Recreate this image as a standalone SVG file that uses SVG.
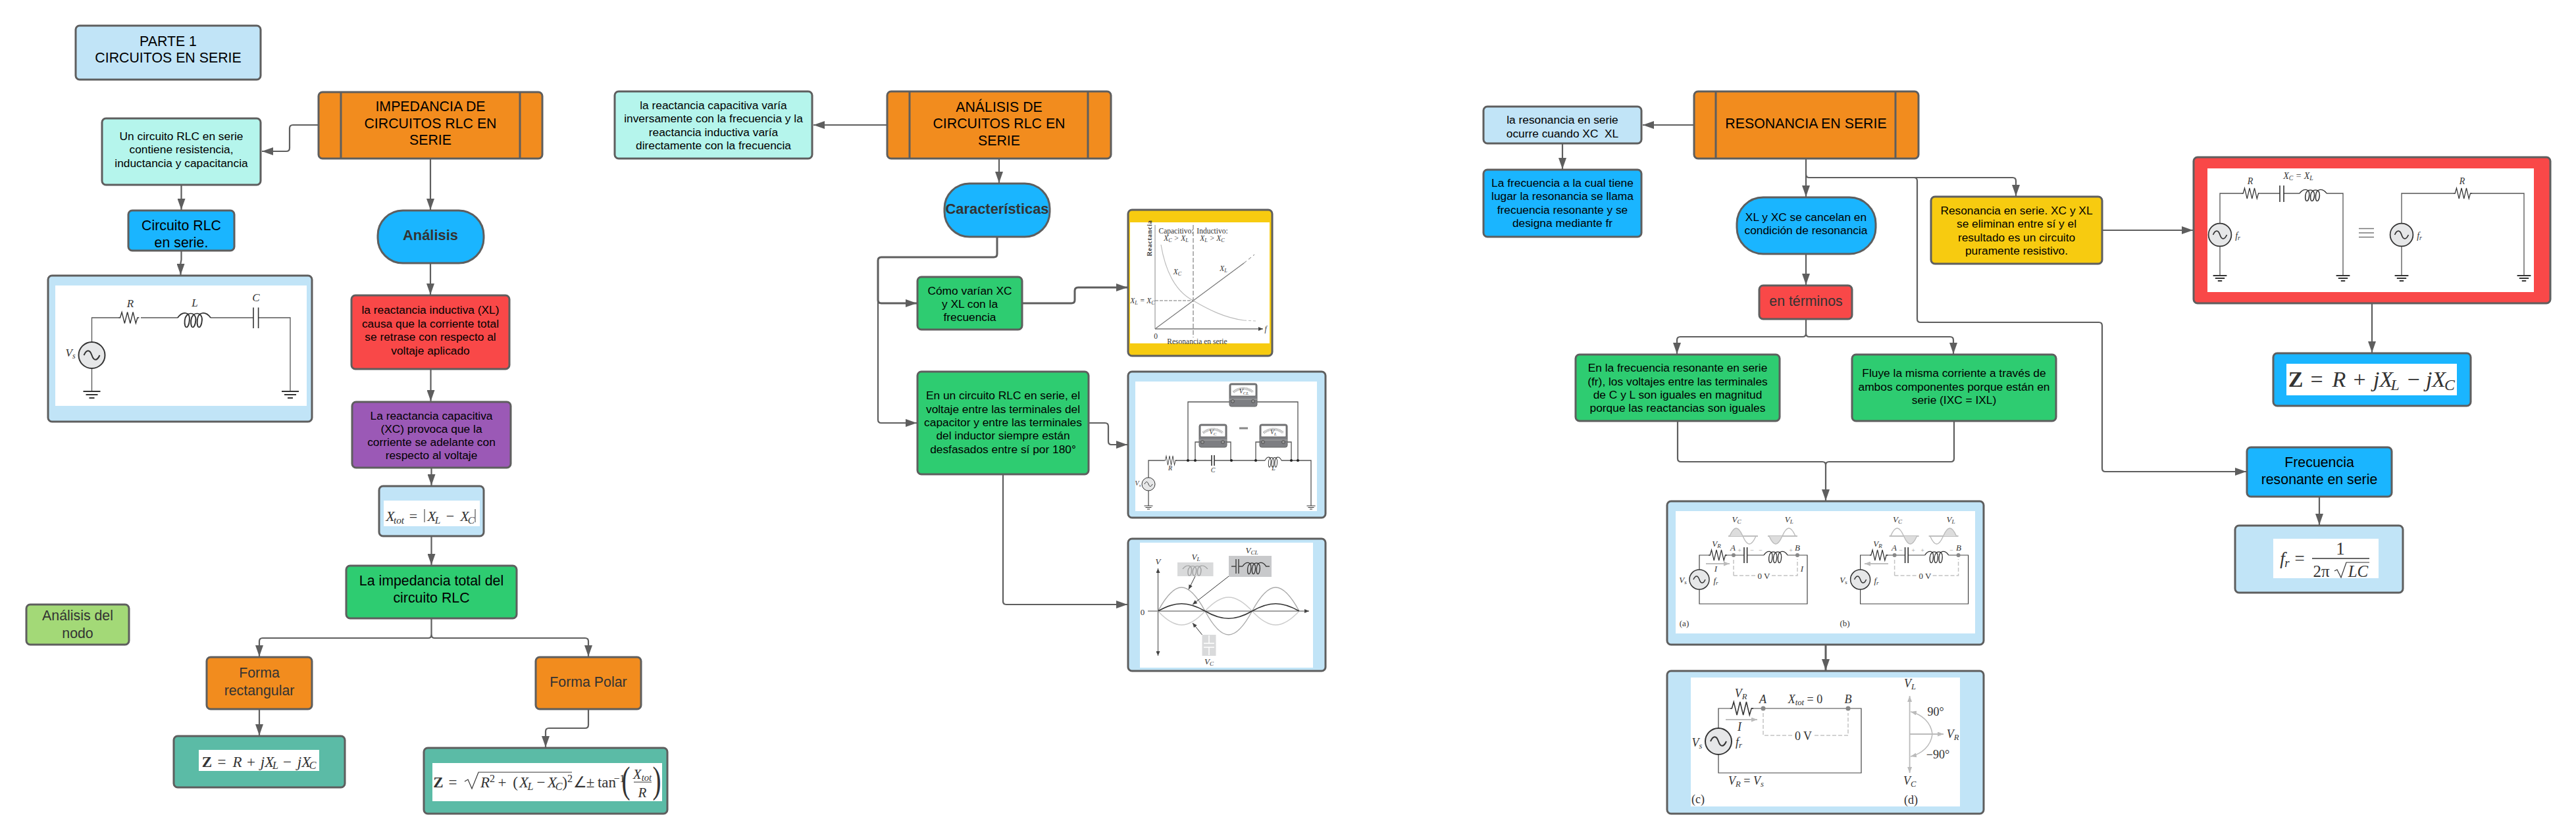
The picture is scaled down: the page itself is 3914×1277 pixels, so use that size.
<svg xmlns="http://www.w3.org/2000/svg" width="3914" height="1277" viewBox="0 0 3914 1277">
<style>
.b{stroke:#5e5e5e;stroke-width:3}
.or{fill:#f28c1e}.tl{fill:#b5f5ec}.bl{fill:#1ab5ff}.rd{fill:#f94848}.pu{fill:#9b59b6}.gr{fill:#2ecc71}.lb{fill:#c1e4f7}.lg{fill:#a3d977}.te{fill:#5bbba6}.ye{fill:#f7cb10}.wh{fill:#fff}
.t{font-family:"Liberation Sans",Arial,sans-serif;text-anchor:middle;fill:#000}
.s17{font-size:17.33px}.s22{font-size:21.33px}.d{fill:#333}.bd{font-weight:700;font-size:21.9px}
.c{fill:none;stroke:#5e5e5e;stroke-width:2.2;marker-end:url(#a)}
.c0{fill:none;stroke:#5e5e5e;stroke-width:2.2}
.w{fill:none;stroke:#555;stroke-width:1.3}
.w2{fill:none;stroke:#333;stroke-width:1.6}
.g{fill:none;stroke:#bbb;stroke-width:1.6}
.da{fill:none;stroke:#c4c4c4;stroke-width:1.5;stroke-dasharray:6 3}
.m{font-family:"Liberation Serif","Times New Roman",serif;font-style:italic;fill:#333;text-anchor:middle}
.r{font-family:"Liberation Serif","Times New Roman",serif;fill:#333;text-anchor:middle}
.sm{font-size:.7em}
.u{font-style:normal}
</style>
<defs>
<marker id="a" markerUnits="userSpaceOnUse" markerWidth="17" markerHeight="12" refX="17" refY="6" orient="auto"><path d="M0 0L17 6L0 12z" fill="#5e5e5e"/></marker>
<marker id="sa" markerUnits="userSpaceOnUse" markerWidth="7" markerHeight="6" refX="7" refY="3" orient="auto"><path d="M0 0L7 3L0 6z" fill="#444"/></marker>
<marker id="ga" markerUnits="userSpaceOnUse" markerWidth="9" markerHeight="7" refX="9" refY="3.5" orient="auto"><path d="M0 0L9 3.5L0 7z" fill="#bbb"/></marker>
<path id="res" d="M0 0h3l3-10 5 20 5-20 5 20 5-20 5 20 3-10h3" fill="none" stroke="#333" stroke-width="1.6"/>
<path id="ind" d="M0 0C6-10 16-10 15 4 14 18 8 18 9 4 10-10 24-10 23 4 22 18 16 18 17 4 18-10 32-10 31 4 30 18 24 18 25 4 26-10 36-10 42 0" fill="none" stroke="#333" stroke-width="1.6"/>
<g id="src"><circle r="20" fill="#e6e7e8" stroke="#333" stroke-width="2"/><path d="M-12 0C-8-9-3-9 0 0S8 9 12 0" fill="none" stroke="#333" stroke-width="2"/></g>
<path id="gnd" d="M-13 0H13M-9 5H9M-4 10H4" fill="none" stroke="#333" stroke-width="2.2"/>
<g id="mtr"><rect width="42" height="35" rx="3" fill="#7d7e82" stroke="#666"/><rect x="2" y="2" width="38" height="17" rx="1" fill="#fff" stroke="#555" stroke-width=".8"/><path d="M6 13Q21 2 36 13" fill="none" stroke="#999" stroke-width="4" stroke-dasharray="1 1"/><path d="M0 24H42" stroke="#aaa"/><circle cx="5" cy="27" r="2.4" fill="#999" stroke="#333" stroke-width=".7"/><circle cx="36" cy="27" r="2.4" fill="#999" stroke="#333" stroke-width=".7"/></g>
<path id="sw" d="M0 0C7-16 13-16 20 0 27 16 33 16 40 0" fill="none" stroke="#bbb" stroke-width="1.4"/>
<path id="shu" d="M0 0C7-16 13-16 20 0z" fill="#ddd"/>
<path id="shd" d="M0 0C7 16 13 16 20 0z" fill="#ddd"/>
</defs>
<rect width="3914" height="1277" fill="#fff"/>
<g id="connectors">
<path class="c" d="M484 190H445Q440 190 440 195V225Q440 230 435 230H398"/>
<path class="c" d="M275.5 281V319"/>
<path class="c" d="M275.500 381V395L274.500 400V418"/>
<path class="c" d="M654 241V319"/>
<path class="c" d="M654 400V448"/>
<path class="c" d="M654.500 561V610"/>
<path class="c" d="M655.500 711V738"/>
<path class="c" d="M655.500 815V859"/>
<path class="c" d="M655.500 940V965Q655.500 970 650.500 970H399Q394 970 394 975V998"/>
<path class="c" d="M655.500 965Q655.500 970 660.500 970H889Q894 970 894 975V998"/>
<path class="c" d="M394 1078V1118"/>
<path class="c" d="M894 1078V1102Q894 1107 889 1107H834Q829 1107 829 1112V1136"/>
<path class="c" d="M1348 190H1236"/>
<path class="c" d="M1518 241V278"/>
<path class="c" style="stroke-width:3" d="M1515 360V386Q1515 391 1510 391H1339Q1334 391 1334 396V456Q1334 461 1339 461H1393"/>
<path class="c" d="M1334 456V638Q1334 643 1339 643H1393"/>
<path class="c" style="stroke-width:3" d="M1553 461H1628Q1633 461 1633 456V442Q1633 437 1638 437H1713"/>
<path class="c" d="M1654 643H1679Q1684 643 1684 648V671Q1684 676 1689 676H1713"/>
<path class="c" d="M1524 721V914Q1524 919 1529 919H1713"/>
<path class="c" d="M2574 190H2496"/>
<path class="c" d="M2374 218V257"/>
<path class="c" d="M2744 241V299"/>
<path class="c" d="M2744 265Q2744 270 2749 270H3058Q3063 270 3063 275V298"/>
<path class="c" d="M2908 270Q2913 270 2913 275V485Q2913 490 2918 490H3189Q3194 490 3194 495V712Q3194 717 3199 717H3413"/>
<path class="c" d="M2744 386V433"/>
<path class="c" d="M2744 485V507Q2744 512 2739 512H2553Q2548 512 2548 517V538"/>
<path class="c" d="M2744 507Q2744 512 2749 512H2963Q2968 512 2968 517V538"/>
<path class="c" d="M2549 640V697Q2549 702 2554 702H2769Q2774 702 2774 707V761"/>
<path class="c0" d="M2969 640V697Q2969 702 2964 702H2779Q2774 702 2774 707"/>
<path class="c" style="stroke-width:3" d="M2774 980V1019"/>
<path class="c" d="M3194 350H3332"/>
<path class="c" d="M3604 461V536"/>
<path class="c" d="M3524 755V798"/>
</g>
<g id="n-parte"><rect class="b lb" x="115" y="39" width="281" height="82" rx="6"/><text class="t s22"><tspan x="255.500" y="70">PARTE 1</tspan><tspan x="255.500" y="95">CIRCUITOS EN SERIE</tspan></text></g>
<g id="n-impedancia"><rect class="b or" x="484" y="140" width="340" height="101" rx="6"/><path class="b" d="M518 140V241M790 140V241"/><text class="t s22"><tspan x="654" y="169">IMPEDANCIA DE</tspan><tspan x="654" y="195">CIRCUITOS RLC EN</tspan><tspan x="654" y="220">SERIE</tspan></text></g>
<g id="n-uncircuito"><rect class="b tl" x="155" y="180" width="241" height="101" rx="6"/><text class="t s17"><tspan x="275.500" y="213">Un circuito RLC en serie</tspan><tspan x="275.500" y="233">contiene resistencia,</tspan><tspan x="275.500" y="254">inductancia y capacitancia</tspan></text></g>
<g id="n-circuitorlc"><rect class="b bl" x="195" y="320" width="161" height="61" rx="6"/><text class="t s22"><tspan x="275.500" y="350">Circuito RLC</tspan><tspan x="275.500" y="376">en serie.</tspan></text></g>
<g id="n-circ1"><rect class="b lb" x="73" y="419" width="401" height="222" rx="6"/><rect class="wh" x="84" y="434" width="382" height="183"/>
<path class="w" d="M139.500 520V483H180M214 483H270M320 483H385M392.600 483H441V595M139.500 560V595"/>
<use href="#res" transform="translate(180 483) scale(.85 .85)"/><use href="#ind" transform="translate(270 483) scale(1.19 1)"/>
<path class="w2" d="M385 467.500V499M392.600 467.500V499"/>
<use href="#src" transform="translate(139.500 540)"/><use href="#gnd" transform="translate(139.500 595)"/><use href="#gnd" transform="translate(441 595)"/>
<text class="m" font-size="17"><tspan x="198" y="467">R</tspan><tspan x="296" y="466">L</tspan><tspan x="389" y="458">C</tspan></text>
<text class="m" font-size="17" x="107" y="542">V<tspan class="sm" dy="3">s</tspan></text></g>
<g id="n-analisis"><rect class="b bl" x="574" y="320" width="161" height="80" rx="38"/><text class="t d bd" x="654" y="365">Análisis</text></g>
<g id="n-inductiva"><rect class="b rd" x="534" y="449" width="240" height="112" rx="6"/><text class="t s17"><tspan x="654" y="477">la reactancia inductiva (XL)</tspan><tspan x="654" y="498">causa que la corriente total</tspan><tspan x="654" y="518">se retrase con respecto al</tspan><tspan x="654" y="539">voltaje aplicado</tspan></text></g>
<g id="n-capacitiva"><rect class="b pu" x="535" y="611" width="241" height="100" rx="6"/><text class="t s17"><tspan x="655.500" y="638">La reactancia capacitiva</tspan><tspan x="655.500" y="658">(XC) provoca que la</tspan><tspan x="655.500" y="678">corriente se adelante con</tspan><tspan x="655.500" y="698">respecto al voltaje</tspan></text></g>
<g id="n-xtot"><rect class="b lb" x="576" y="739" width="159" height="76" rx="6"/><rect class="wh" x="583" y="761" width="146" height="39"/>
<text class="m" font-size="22" y="792"><tspan x="593">X</tspan><tspan class="sm" x="606" dy="4">tot</tspan><tspan class="u" x="628" dy="-4">=</tspan><tspan x="656">X</tspan><tspan class="sm" x="665" dy="4">L</tspan><tspan class="u" x="684" dy="-4">−</tspan><tspan x="706">X</tspan><tspan class="sm" x="716" dy="4">C</tspan></text>
<path d="M645 774V794M722 774V794" stroke="#333" fill="none"/></g>
<g id="n-total"><rect class="b gr" x="526" y="860" width="259" height="80" rx="6"/><text class="t s22"><tspan x="655.500" y="890">La impedancia total del</tspan><tspan x="655.500" y="916">circuito RLC</tspan></text></g>
<g id="n-nodo"><rect class="b lg" x="40" y="919" width="156" height="61" rx="6"/><text class="t s22 d"><tspan x="118" y="943">Análisis del</tspan><tspan x="118" y="970">nodo</tspan></text></g>
<g id="n-rect"><rect class="b or" x="314" y="999" width="160" height="79" rx="6"/><text class="t s22 d"><tspan x="394" y="1030">Forma</tspan><tspan x="394" y="1057">rectangular</tspan></text></g>
<g id="n-polar"><rect class="b or" x="814" y="999" width="160" height="79" rx="6"/><text class="t s22 d" x="894" y="1044">Forma Polar</text></g>
<g id="n-zrect"><rect class="b te" x="264" y="1119" width="260" height="78" rx="6"/><rect class="wh" x="302" y="1140" width="183" height="32"/>
<text class="m" font-size="23" y="1166"><tspan class="u" x="314.500" style="font-weight:700">Z</tspan><tspan class="u" x="337">=</tspan><tspan x="360.500">R</tspan><tspan class="u" x="381.500">+</tspan><tspan x="406">jX</tspan><tspan class="sm" x="418.500" dy="3">L</tspan><tspan class="u" x="436.500" dy="-3">−</tspan><tspan x="462">jX</tspan><tspan class="sm" x="475" dy="3">C</tspan></text></g>
<g id="n-zpolar"><rect class="b te" x="644" y="1137" width="370" height="100" rx="6"/><rect class="wh" x="657" y="1160" width="349" height="58"/>
<text class="m" font-size="23" y="1197"><tspan class="u" x="666" style="font-weight:700">Z</tspan><tspan class="u" x="688">=</tspan><tspan x="737">R</tspan><tspan class="sm u" x="748" dy="-8">2</tspan><tspan class="u" x="763" dy="8">+</tspan><tspan class="u" x="783">(</tspan><tspan x="796">X</tspan><tspan class="sm" x="806" dy="4">L</tspan><tspan class="u" x="822" dy="-4">−</tspan><tspan x="839">X</tspan><tspan class="sm" x="849" dy="4">C</tspan><tspan class="u" x="858" dy="-4">)</tspan><tspan class="sm u" x="866" dy="-8">2</tspan><tspan class="u" x="881" dy="8">∠</tspan><tspan class="u" x="897">±</tspan><tspan class="u" x="922">tan</tspan><tspan class="sm u" x="941" dy="-8">−1</tspan></text>
<path d="M706 1188L711 1185 717 1199 727 1174H869" stroke="#333" stroke-width="1.200" fill="none"/>
<text class="r" font-size="56" transform="translate(951 1205) scale(.7 1)">(</text><text class="r" font-size="56" transform="translate(998 1205) scale(.7 1)">)</text>
<text class="m" font-size="21" x="976" y="1184">X<tspan class="sm" dy="3">tot</tspan></text><path d="M963 1189H990" stroke="#333"/><text class="m" font-size="21" x="976" y="1212">R</text></g>
<g id="n-capvaria"><rect class="b tl" x="934" y="139" width="300" height="102" rx="6"/><text class="t s17"><tspan x="1084" y="166">la reactancia capacitiva varía</tspan><tspan x="1084" y="186">inversamente con la frecuencia y la</tspan><tspan x="1084" y="207">reactancia inductiva varía</tspan><tspan x="1084" y="227">directamente con la frecuencia</tspan></text></g>
<g id="n-analisis2"><rect class="b or" x="1348" y="139" width="340" height="102" rx="6"/><path class="b" d="M1382 139V241M1653 139V241"/><text class="t s22"><tspan x="1518" y="170">ANÁLISIS DE</tspan><tspan x="1518" y="195">CIRCUITOS RLC EN</tspan><tspan x="1518" y="221">SERIE</tspan></text></g>
<g id="n-caract"><rect class="b bl" x="1435" y="279" width="160" height="81" rx="38"/><text class="t d bd" x="1515" y="325">Características</text></g>
<g id="n-como"><rect class="b gr" x="1394" y="421" width="159" height="80" rx="6"/><text class="t s17"><tspan x="1473.500" y="448">Cómo varían XC</tspan><tspan x="1473.500" y="468">y XL con la</tspan><tspan x="1473.500" y="488">frecuencia</tspan></text></g>
<g id="n-graf"><rect class="b ye" x="1714" y="319" width="219" height="222" rx="6"/><rect class="wh" x="1717" y="338" width="212" height="184"/>
<path class="w" style="stroke:#888;stroke-width:1" d="M1755 342V500"/><path d="M1755 500H1919" stroke="#777" stroke-width="1.5" marker-end="url(#sa)"/>
<path d="M1813 342V513" stroke="#666" stroke-width="1" stroke-dasharray="7 3"/>
<path d="M1755 500L1890 400" stroke="#777" fill="none" stroke-width="1.2"/><path d="M1890 400L1906 387" stroke="#777" stroke-dasharray="5 4"/>
<path class="g" style="stroke-width:1.2" d="M1764 372C1772 420 1790 445 1813 457 1835 470 1860 483 1890 487"/><path d="M1890 487L1908 488" stroke="#bbb" stroke-dasharray="4 3"/>
<path d="M1755 457H1813" stroke="#777" stroke-dasharray="5 2"/>
<text class="r" font-size="10" style="font-weight:700;letter-spacing:.8px" transform="translate(1750 362) rotate(-90)">Reactancia</text>
<text class="r" font-size="11.500"><tspan x="1787" y="355">Capacitivo:</tspan><tspan x="1842" y="355">Inductivo:</tspan><tspan x="1819" y="523">Resonancia en serie</tspan></text>
<text class="m" font-size="11.500"><tspan x="1787" y="366">X<tspan class="sm" dy="2">C</tspan><tspan dy="-2"> &gt; X</tspan><tspan class="sm" dy="2">L</tspan></tspan><tspan x="1842" y="366">X<tspan class="sm" dy="2">L</tspan><tspan dy="-2"> &gt; X</tspan><tspan class="sm" dy="2">C</tspan></tspan><tspan x="1789" y="417">X<tspan class="sm" dy="2">C</tspan></tspan><tspan x="1859" y="412">X<tspan class="sm" dy="2">L</tspan></tspan><tspan x="1736" y="461">X<tspan class="sm" dy="2">L</tspan><tspan dy="-2"> = X</tspan><tspan class="sm" dy="2">C</tspan></tspan><tspan x="1923" y="504">f</tspan></text>
<text class="r" font-size="11.500" x="1756" y="515">0</text></g>
<g id="n-envn"><rect class="b gr" x="1394" y="565" width="260" height="156" rx="6"/><text class="t s17"><tspan x="1524" y="607">En un circuito RLC en serie, el</tspan><tspan x="1524" y="628">voltaje entre las terminales del</tspan><tspan x="1524" y="648">capacitor y entre las terminales</tspan><tspan x="1524" y="668">del inductor siempre están</tspan><tspan x="1524" y="689">desfasados entre sí por 180°</tspan></text></g>
<g id="n-medidores"><rect class="b lb" x="1714" y="565" width="300" height="222" rx="6"/><rect class="wh" x="1725" y="580" width="276" height="197"/>
<path class="w" d="M1745 726V700H1769M1786 700H1841M1845 700H1922M1947 700H1992V769M1745 746V769M1805 700V611H1868M1910 611H1972V700M1816 700V672H1823M1870 700V672H1864M1908 700V672H1914M1962 700V672H1956"/>
<use href="#res" transform="translate(1769 700) scale(.5 .7)"/><use href="#ind" transform="translate(1922 700) scale(.6 .7)"/>
<path class="w2" d="M1841 692V708M1845 692V708"/>
<use href="#src" transform="translate(1745 736) scale(.5)"/><use href="#gnd" transform="translate(1745 769) scale(.5)"/><use href="#gnd" transform="translate(1992 769) scale(.5)"/>
<use href="#mtr" x="1868" y="583"/><use href="#mtr" x="1822" y="645"/><use href="#mtr" x="1914" y="645"/>
<g fill="#222"><circle cx="1805" cy="700" r="2"/><circle cx="1816" cy="700" r="2"/><circle cx="1871" cy="700" r="2"/><circle cx="1908" cy="700" r="2"/><circle cx="1962" cy="700" r="2"/><circle cx="1972" cy="700" r="2"/></g>
<path d="M1883 651H1896" stroke="#888" stroke-width="3"/>
<text class="m" font-size="10"><tspan x="1890" y="598">V<tspan class="sm" dy="2">CL</tspan></tspan><tspan x="1843" y="660">V<tspan class="sm" dy="2">C</tspan></tspan><tspan x="1935" y="660">V<tspan class="sm" dy="2">L</tspan></tspan><tspan x="1778" y="715">R</tspan><tspan x="1843" y="718">C</tspan><tspan x="1935" y="715">L</tspan><tspan x="1729" y="738">V<tspan class="sm" dy="2">s</tspan></tspan></text></g>
<g id="n-ondas"><rect class="b lb" x="1714" y="819" width="300" height="201" rx="6"/><rect class="wh" x="1732" y="825" width="263" height="190"/>
<path d="M1759.500 929V864" stroke="#444" marker-end="url(#sa)"/><path d="M1759.500 929V997" stroke="#444" marker-end="url(#sa)"/><path d="M1744 929H1989" stroke="#444" marker-end="url(#sa)"/>
<path fill="none" stroke="#aaa" stroke-width="1.4" d="M1759.500 929C1785.500 881 1805 881 1831 929 1857 977 1876.500 977 1902.500 929 1928.500 881 1948 881 1974 929"/>
<path fill="none" stroke="#ccc" stroke-width="1.4" d="M1759.500 929C1785.500 957 1805 957 1831 929 1857 901 1876.500 901 1902.500 929 1928.500 957 1948 957 1974 929"/>
<path fill="none" stroke="#333" stroke-width="1.700" d="M1759.500 929C1785.500 914 1805 914 1831 929 1857 944 1876.500 944 1902.500 929 1928.500 914 1948 914 1974 929"/>
<rect x="1789" y="855" width="54.500" height="21" fill="#d9dadb"/><use href="#ind" transform="translate(1797 865) scale(.9 .7)" opacity=".35"/>
<rect x="1867" y="845" width="65" height="32" fill="#c8c9cb"/><path d="M1871 861H1878M1878 850V872M1882 850V872M1882 861H1888M1923 861H1929" stroke="#444" stroke-width="1.5"/><use href="#ind" transform="translate(1888 861) scale(.85 .8)"/>
<rect x="1826.500" y="965" width="21" height="32" fill="#d9dadb"/><path d="M1837 966V978M1837 984V996M1829 978H1845M1829 984H1845" stroke="#fff" stroke-width="1.5"/>
<path d="M1816 876L1806 896" stroke="#333" marker-end="url(#sa)"/><path d="M1867 876L1812 919" stroke="#333" marker-end="url(#sa)"/><path d="M1826.500 965L1812 947" stroke="#333" marker-end="url(#sa)"/>
<text class="r" font-size="13" x="1736" y="935">0</text>
<text class="m" font-size="13"><tspan x="1759.500" y="858">V</tspan><tspan x="1817" y="851">V<tspan class="sm" dy="2">L</tspan></tspan><tspan x="1902" y="841">V<tspan class="sm" dy="2">CL</tspan></tspan><tspan x="1837" y="1010">V<tspan class="sm" dy="2">C</tspan></tspan></text></g>
<g id="n-resonancia"><rect class="b or" x="2574" y="139" width="341" height="102" rx="6"/><path class="b" d="M2607 139V241M2880 139V241"/><text class="t s22" x="2744" y="195">RESONANCIA EN SERIE</text></g>
<g id="n-ocurre"><rect class="b lb" x="2254" y="162" width="240" height="56" rx="6"/><text class="t s17"><tspan x="2374" y="188">la resonancia en serie</tspan><tspan x="2374" y="209">ocurre cuando XC&#160; XL</tspan></text></g>
<g id="n-frecuencia"><rect class="b bl" x="2254" y="258" width="240" height="102" rx="6"/><text class="t s17"><tspan x="2374" y="284">La frecuencia a la cual tiene</tspan><tspan x="2374" y="304">lugar la resonancia se llama</tspan><tspan x="2374" y="325">frecuencia resonante y se</tspan><tspan x="2374" y="345">designa mediante fr</tspan></text></g>
<g id="n-xlxc"><rect class="b bl" x="2639" y="300" width="211" height="86" rx="40"/><text class="t s17"><tspan x="2744" y="336">XL y XC se cancelan en</tspan><tspan x="2744" y="356">condición de resonancia</tspan></text></g>
<g id="n-terminos"><rect class="b rd" x="2673" y="434" width="141" height="51" rx="6"/><text class="t s22 d" x="2744" y="465">en términos</text></g>
<g id="n-verde1"><rect class="b gr" x="2394" y="539" width="310" height="101" rx="6"/><text class="t s17"><tspan x="2549" y="565">En la frecuencia resonante en serie</tspan><tspan x="2549" y="586">(fr), los voltajes entre las terminales</tspan><tspan x="2549" y="606">de C y L son iguales en magnitud</tspan><tspan x="2549" y="626">porque las reactancias son iguales</tspan></text></g>
<g id="n-verde2"><rect class="b gr" x="2814" y="539" width="310" height="101" rx="6"/><text class="t s17"><tspan x="2969" y="573">Fluye la misma corriente a través de</tspan><tspan x="2969" y="594">ambos componentes porque están en</tspan><tspan x="2969" y="614">serie (IXC = IXL)</tspan></text></g>
<g id="n-amarillo"><rect class="b ye" x="2934" y="299" width="260" height="102" rx="6"/><text class="t s17"><tspan x="3064" y="326">Resonancia en serie. XC y XL</tspan><tspan x="3064" y="346">se eliminan entre sí y el</tspan><tspan x="3064" y="367">resultado es un circuito</tspan><tspan x="3064" y="387">puramente resistivo.</tspan></text></g>
<g id="n-rojo"><rect class="b rd" x="3333" y="239" width="542" height="222" rx="6"/><rect class="wh" x="3354" y="256" width="496" height="188"/>
<path class="w" d="M3373 340V294H3406M3434 294H3464M3470 294H3494M3535 294H3560V419M3373 374V419M3649 340V294H3728M3755 294H3835V419M3649 374V419"/>
<use href="#res" transform="translate(3406 294) scale(.75 .8)"/><use href="#ind" transform="translate(3494 294) scale(.98 .8)"/><use href="#res" transform="translate(3728 294) scale(.75 .8)"/>
<path class="w2" d="M3464 282V307M3470 282V307"/>
<use href="#src" transform="translate(3373 357) scale(.87)"/><use href="#src" transform="translate(3649 357) scale(.87)"/>
<use href="#gnd" transform="translate(3373 419) scale(.8)"/><use href="#gnd" transform="translate(3560 419) scale(.8)"/><use href="#gnd" transform="translate(3649 419) scale(.8)"/><use href="#gnd" transform="translate(3835 419) scale(.8)"/>
<path d="M3584 347.500H3607M3584 354H3607M3584 360.500H3607" stroke="#777" stroke-width="1.500"/>
<text class="m" font-size="14"><tspan x="3419" y="280">R</tspan><tspan x="3492" y="272">X<tspan class="sm" dy="2">C</tspan><tspan dy="-2"> = X</tspan><tspan class="sm" dy="2">L</tspan></tspan><tspan x="3400" y="363">f<tspan class="sm" dy="2">r</tspan></tspan><tspan x="3741" y="280">R</tspan><tspan x="3676" y="363">f<tspan class="sm" dy="2">r</tspan></tspan></text></g>
<g id="n-zblue"><rect class="b bl" x="3454" y="537" width="300" height="80" rx="6"/><rect class="wh" x="3474" y="553" width="259" height="48"/>
<text class="m" font-size="34" y="588"><tspan class="u" x="3488" style="font-weight:700">Z</tspan><tspan class="u" x="3520">=</tspan><tspan x="3554">R</tspan><tspan class="u" x="3585">+</tspan><tspan x="3621">jX</tspan><tspan class="sm" x="3639" dy="5">L</tspan><tspan class="u" x="3667" dy="-5">−</tspan><tspan x="3701">jX</tspan><tspan class="sm" x="3722" dy="5">C</tspan></text></g>
<g id="n-frecres"><rect class="b bl" x="3414" y="680" width="220" height="75" rx="6"/><text class="t s22"><tspan x="3524" y="710">Frecuencia</tspan><tspan x="3524" y="736">resonante en serie</tspan></text></g>
<g id="n-formula"><rect class="b lb" x="3396" y="799" width="255" height="102" rx="6"/><rect class="wh" x="3454" y="819" width="160" height="60"/>
<text class="m" font-size="27" y="858"><tspan x="3468">f</tspan><tspan class="sm" x="3475" dy="4">r</tspan><tspan class="u" x="3494" dy="-4">=</tspan></text>
<path d="M3513 849H3600" stroke="#333" stroke-width="1.300"/>
<text class="r" font-size="27" x="3556" y="843">1</text>
<text class="m" font-size="25" y="877"><tspan class="u" x="3527">2π</tspan><tspan x="3583">LC</tspan></text><path d="M3547 868L3551 866 3557 878 3565 855H3600" stroke="#333" stroke-width="1.200" fill="none"/></g>
<g id="n-circab"><rect class="b lb" x="2533" y="762" width="481" height="218" rx="6"/><rect class="wh" x="2546" y="777" width="455" height="186"/>
<path class="w2" style="stroke:#444;stroke-width:1.200" d="M2582 866V844H2596M2621 844H2650M2654.600 844H2680M2716 844H2746V918H2582V896"/>
<path class="w2" style="stroke:#444;stroke-width:1.200" d="M2826.600 866V844H2840.600M2865.600 844H2894.600M2899.200 844H2924.600M2960.600 844H2990.600V918H2826.600V896"/>
<use href="#res" transform="translate(2596 844) scale(.75 .8)"/><use href="#res" transform="translate(2840.600 844) scale(.75 .8)"/><use href="#ind" transform="translate(2680 844) scale(.86 .8)"/><use href="#ind" transform="translate(2924.600 844) scale(.86 .8)"/>
<path class="w2" d="M2650 832V856M2654.600 832V856M2894.600 832V856M2899.200 832V856"/>
<use href="#src" transform="translate(2582 881) scale(.75)"/><use href="#src" transform="translate(2826.600 881) scale(.75)"/>
<g fill="#888"><circle cx="2634" cy="844" r="3"/><circle cx="2731" cy="844" r="3"/><circle cx="2878.600" cy="844" r="3"/><circle cx="2975.600" cy="844" r="3"/></g>
<path d="M2626 815H2671M2686 815H2731M2870.600 815H2915.600M2930.600 815H2975.600" stroke="#aaa" stroke-width="1.300"/>
<use href="#shu" transform="translate(2628 815)"/><use href="#sw" transform="translate(2628 815)"/>
<use href="#shd" transform="translate(2688 815)"/><use href="#sw" transform="translate(2688 815) scale(1 -1)"/>
<use href="#shd" transform="translate(2892.600 815)"/><use href="#sw" transform="translate(2872.600 815)"/>
<use href="#shu" transform="translate(2952.600 815)"/><use href="#sw" transform="translate(2932.600 815) scale(1 -1)"/>
<path class="da" d="M2634 875V850M2634 875H2668M2692 875H2731V850M2878.600 875V850M2878.600 875H2912.600M2936.600 875H2975.600V850"/>
<path d="M2592 857H2628" stroke="#aaa" stroke-width="1.400" marker-end="url(#ga)"/><path d="M2869 857H2833" stroke="#aaa" stroke-width="1.400" marker-end="url(#ga)"/>
<text class="m" font-size="13"><tspan x="2608" y="831">V<tspan class="sm" dy="2">R</tspan></tspan><tspan x="2633" y="837">A</tspan><tspan x="2731" y="837">B</tspan><tspan x="2607" y="869">I</tspan><tspan x="2738" y="869">I</tspan><tspan x="2557" y="886">V<tspan class="sm" dy="2">s</tspan></tspan><tspan x="2607" y="887">f<tspan class="sm" dy="2">r</tspan></tspan><tspan x="2638.500" y="794">V<tspan class="sm" dy="2">C</tspan></tspan><tspan x="2720" y="794">V<tspan class="sm" dy="2">L</tspan></tspan>
<tspan x="2853" y="831">V<tspan class="sm" dy="2">R</tspan></tspan><tspan x="2878" y="837">A</tspan><tspan x="2976" y="837">B</tspan><tspan x="2801" y="886">V<tspan class="sm" dy="2">s</tspan></tspan><tspan x="2851" y="887">f<tspan class="sm" dy="2">r</tspan></tspan><tspan x="2883" y="794">V<tspan class="sm" dy="2">C</tspan></tspan><tspan x="2964" y="794">V<tspan class="sm" dy="2">L</tspan></tspan></text>
<text class="r" font-size="13"><tspan x="2680" y="880">0 V</tspan><tspan x="2925" y="880">0 V</tspan><tspan x="2559" y="952">(a)</tspan><tspan x="2803" y="952">(b)</tspan></text>
<text class="r" font-size="10" style="fill:#999"><tspan x="2643" y="840">+</tspan><tspan x="2662" y="840">−</tspan><tspan x="2675" y="840">−</tspan><tspan x="2721" y="840">+</tspan><tspan x="2888" y="840">−</tspan><tspan x="2907" y="840">+</tspan><tspan x="2921" y="840">+</tspan><tspan x="2965" y="840">−</tspan></text></g>
<g id="n-circcd"><rect class="b lb" x="2533" y="1020" width="481" height="217" rx="6"/><rect class="wh" x="2569" y="1030" width="409" height="196"/>
<path class="w2" style="stroke:#444;stroke-width:1.200" d="M2611 1107V1077H2628.500M2661 1077H2828V1175H2611V1147"/>
<use href="#res" transform="translate(2628.500 1077) scale(.96 1)"/><use href="#src" transform="translate(2611 1127)"/>
<g fill="#888"><circle cx="2679" cy="1077" r="3.500"/><circle cx="2808" cy="1077" r="3.500"/></g>
<path class="da" d="M2679 1084V1118H2725M2757 1118H2808V1084"/>
<path d="M2622 1094H2670" stroke="#aaa" stroke-width="1.500" marker-end="url(#ga)"/>
<path d="M2901.600 1116V1058" stroke="#bbb" stroke-width="1.800" marker-end="url(#ga)"/><path d="M2901.600 1116V1175" stroke="#bbb" stroke-width="1.800" marker-end="url(#ga)"/><path d="M2901.600 1116H2953" stroke="#bbb" stroke-width="1.800" marker-end="url(#ga)"/>
<path class="g" marker-end="url(#ga)" d="M2936 1116C2934 1098 2920 1086 2903 1082"/><path class="g" marker-end="url(#ga)" d="M2936 1116C2934 1134 2920 1146 2903 1150"/>
<text class="m" font-size="18"><tspan x="2645" y="1060">V<tspan class="sm" dy="3">R</tspan></tspan><tspan x="2678.500" y="1069">A</tspan><tspan x="2743" y="1069">X<tspan class="sm" dy="3">tot</tspan><tspan class="u" dy="-3"> = 0</tspan></tspan><tspan x="2808" y="1069">B</tspan><tspan x="2643" y="1111">I</tspan><tspan x="2578.500" y="1135">V<tspan class="sm" dy="3">s</tspan></tspan><tspan x="2642" y="1134">f<tspan class="sm" dy="3">r</tspan></tspan><tspan x="2902" y="1045">V<tspan class="sm" dy="3">L</tspan></tspan><tspan x="2967" y="1122">V<tspan class="sm" dy="3">R</tspan></tspan><tspan x="2901.600" y="1193">V<tspan class="sm" dy="3">C</tspan></tspan><tspan x="2653" y="1193">V<tspan class="sm" dy="3">R</tspan><tspan class="u" dy="-3"> = </tspan>V<tspan class="sm" dy="3">s</tspan></tspan></text>
<text class="r" font-size="18"><tspan x="2740" y="1125">0 V</tspan><tspan x="2941" y="1088">90°</tspan><tspan x="2944.500" y="1153">−90°</tspan><tspan x="2580" y="1221">(c)</tspan><tspan x="2903.500" y="1222">(d)</tspan></text></g>
</svg>
